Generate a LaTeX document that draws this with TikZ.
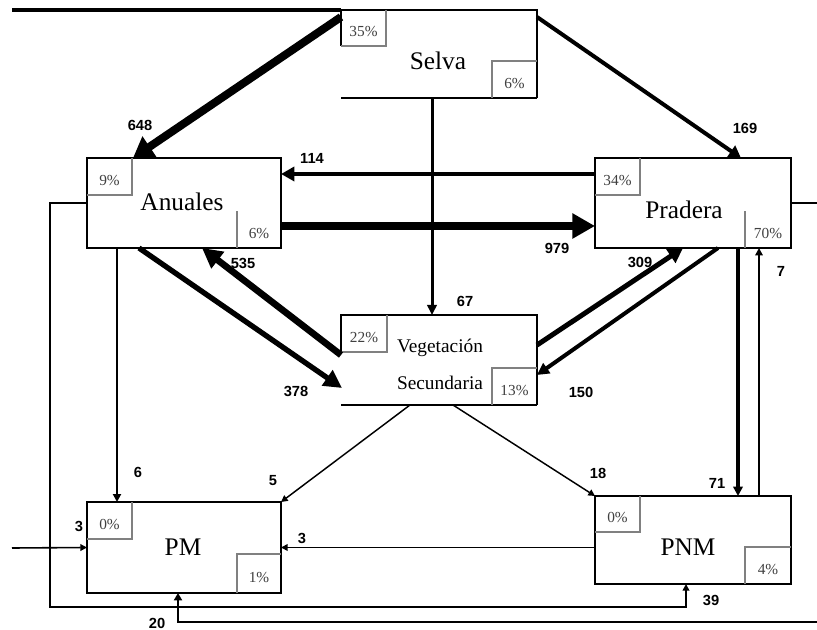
\documentclass[tikz,border=0pt]{standalone}
\usepackage{fontspec}
\setmainfont{Liberation Serif}
\newfontfamily\numfont{Liberation Sans}
\usetikzlibrary{arrows.meta,calc}
\newcommand\tlbox[4]{%
  \draw[innerln] ($(#1.north west)+(#2,0)$) -- ++(0,#3) -- ($(#1.north west)+(0,#3)$);
  \node[pct] at ($(#1.north west)+(#2/2,#3/2+4)$) {#4};}
\newcommand\brboxT[4]{%
  \draw[innerln] ($(#1.south east)+(-#2,0)$) -- ++(0,-#3) -- ++(#2,0);
  \node[pct] at ($(#1.south east)+(-#2/2,-#3/2+4)$) {#4};}
\newcommand\brboxL[4]{%
  \draw[innerln] ($(#1.south east)+(-#2,0)$) -- ++(0,-#3);
  \node[pct] at ($(#1.south east)+(-#2/2,-#3/2+4)$) {#4};}
\begin{document}
\begin{tikzpicture}[x=0.75pt,y=-0.75pt,
  box/.style={rectangle,inner sep=0pt,outer sep=0pt,draw=black,line width=1.5pt},
  openbox/.style={rectangle,inner sep=0pt,outer sep=0pt},
  title/.style={font=\fontsize{19}{22}\selectfont},
  vtitle/.style={font=\fontsize{14.5}{17}\selectfont},
  pct/.style={font=\fontsize{11.5}{13}\selectfont,text=black!75},
  num/.style={font=\numfont\bfseries\fontsize{11}{12}\selectfont},
  innerln/.style={draw=black!50,line width=0.8pt},
  flow/.style n args={3}{line width=#1,-{Triangle[length=#2,width=#3]}},
  plain/.style={line width=#1}]
\useasboundingbox (0,0) rectangle (817,630);

% boxes
\node[openbox,minimum width=147pt,minimum height=66pt] (S) at (439,54) {};
\node[box,minimum width=145.5pt,minimum height=67.5pt] (A) at (184,203) {};
\node[box,minimum width=147pt,minimum height=67.5pt] (P) at (693,203) {};
\node[openbox,minimum width=147pt,minimum height=67.5pt] (V) at (439,360) {};
\node[box,minimum width=145.5pt,minimum height=68.25pt] (M) at (184,547.5) {};
\node[box,minimum width=147pt,minimum height=66pt] (N) at (693,540) {};

% partial outlines
\draw[line width=0.9pt] ($(S.north west)+(0,36)$) -- (S.north west) -- (S.north east) -- (S.south east);
\draw[line width=2.2pt] (S.south east) -- (S.south west);
\draw[line width=0.9pt] ($(V.north west)+(0,37)$) -- (V.north west) -- (V.north east) -- (V.south east);
\draw[line width=2.2pt] (V.south east) -- (V.south west);

% titles
\node[title] (tS) at (438,61) {Selva};
\node[title] (tA) at (182,202) {Anuales};
\node[title] (tP) at (684,210) {Pradera};
\node[vtitle] (tV1) at (440,348) {Vegetación};
\node[vtitle] (tV2) at (440,383) {Secundaria};
\node[title] (tM) at (183,547) {PM};
\node[title] (tN) at (688,547) {PNM};

% percentage boxes
\tlbox{S}{45}{36}{35\%}
\brboxT{S}{45}{37}{6\%}
\tlbox{A}{45}{37}{9\%}
\brboxL{A}{44}{37}{6\%}
\tlbox{P}{45}{37}{34\%}
\brboxL{P}{46}{37}{70\%}
\tlbox{V}{46}{37}{22\%}
\brboxT{V}{45}{37}{13\%}
\tlbox{M}{45}{37}{0\%}
\brboxT{M}{44}{39}{1\%}
\tlbox{N}{45}{36}{0\%}
\brboxT{N}{46}{37}{4\%}

% free ends
\coordinate (tin) at (12,10);
\coordinate (lin) at (12,548);
\coordinate (pout) at (817,203);
\coordinate (bin) at (817,622);

% connectors
\draw[plain=2.4pt] (tin) -- (S.north west);
\draw[plain=1.2pt] (P.east) -- (pout);
\draw[flow={6pt}{15pt}{18pt}] ($(S.north west)+(0,7)$) -- ($(A.north west)+(46,0)$);
\draw[flow={3pt}{9pt}{10pt}] ($(S.north east)+(0,7)$) -- ($(P.north west)+(146,0)$);
\draw[flow={3.5pt}{10pt}{10.5pt}] ($(P.north west)+(0,16)$) -- ($(A.north east)+(0,16)$);
\draw[flow={6pt}{17pt}{18pt}] ($(A.north east)+(0,68)$) -- ($(P.north west)+(0,68)$);
\draw[flow={2.25pt}{7.5pt}{7pt}] ($(S.south west)+(91,0)$) -- ($(V.north west)+(91,0)$);
\draw[flow={5pt}{15pt}{15pt}] ($(V.north west)+(0,40)$) -- ($(A.south west)+(115,0)$);
\draw[flow={4pt}{13.5pt}{13.5pt}] ($(A.south west)+(52,0)$) -- ($(V.north west)+(1,73)$);
\draw[flow={3.75pt}{11pt}{12pt}] ($(V.north east)+(0,30)$) -- ($(P.south west)+(88,0)$);
\draw[flow={3pt}{9pt}{9pt}] ($(P.south west)+(123,0)$) -- ($(V.north east)+(0,60)$);
\draw[flow={1.1pt}{5pt}{5pt}] ($(V.south west)+(69,0)$) -- (M.north east);
\draw[flow={1.1pt}{5pt}{5pt}] ($(V.south west)+(112,0)$) -- (N.north west);
\draw[flow={2.6pt}{7pt}{7pt}] ($(P.south west)+(143,0)$) -- ($(N.north west)+(143,0)$);
\draw[flow={1.5pt}{5.5pt}{5.5pt}] ($(N.north west)+(164,0)$) -- ($(P.south west)+(164,0)$);
\draw[flow={1.5pt}{6pt}{6pt}] ($(A.south west)+(30,0)$) -- ($(M.north west)+(30,0)$);
\draw[flow={1.2pt}{5pt}{5pt}] (M.east -| N.west) -- (M.east);
\draw[flow={1.2pt}{5pt}{5pt}] (lin) -- (M.west);
\draw[flow={1.5pt}{5pt}{5pt}] (A.west) -- ++(-37,0) |- ($(N.south west)+(91,23)$) -- ($(N.south west)+(91,0)$);
\draw[flow={2.2pt}{5.5pt}{6pt}] (bin) -| ($(M.south west)+(91,0)$);

% flow values
\node[num] (n648) at (140,125) {648};
\node[num] (n169) at (745,128) {169};
\node[num] (n114) at (312,158) {114};
\node[num] (n979) at (557,248) {979};
\node[num] (n535) at (243,263) {535};
\node[num] (n378) at (296,391) {378};
\node[num] (n309) at (640,262) {309};
\node[num] (n150) at (581,392) {150};
\node[num] (n67) at (465,301) {67};
\node[num] (n6) at (138,472) {6};
\node[num] (n5) at (273,481) {5};
\node[num] (n3a) at (79,526) {3};
\node[num] (n3b) at (302,538) {3};
\node[num] (n18) at (598,473) {18};
\node[num] (n71) at (717,483) {71};
\node[num] (n7) at (781,271) {7};
\node[num] (n39) at (711,600) {39};
\node[num] (n20) at (157,623) {20};
\end{tikzpicture}
\end{document}
